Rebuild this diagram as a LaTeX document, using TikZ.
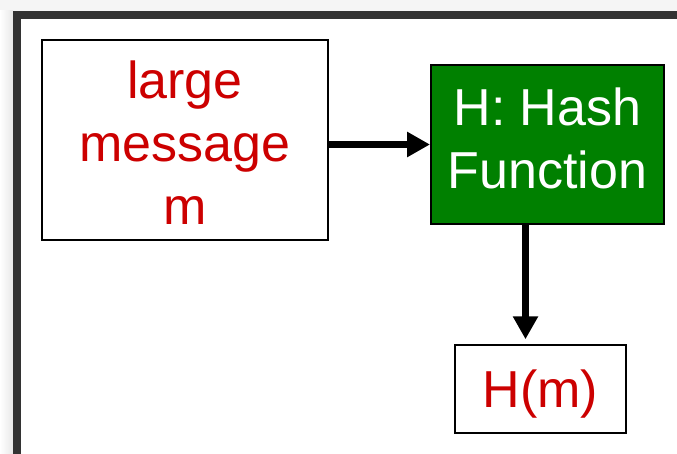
\documentclass[tikz,border=0pt]{standalone}
\usepackage{fontspec}
\setmainfont{Liberation Sans}
\usetikzlibrary{arrows.meta}
\definecolor{msgred}{RGB}{204,0,0}
\definecolor{hashgreen}{RGB}{0,128,0}
\definecolor{framegray}{RGB}{51,51,51}
\begin{document}
\begin{tikzpicture}[x=1pt,y=-1pt,
  box/.style={draw=black,line width=1.5pt,fill=white,inner sep=0pt},
  msgbox/.style={box,minimum width=286pt,minimum height=200pt},
  hashbox/.style={box,line width=2pt,fill=hashgreen,minimum width=233pt,minimum height=159pt},
  outbox/.style={box,minimum width=171pt,minimum height=88pt},
  txt/.style={inner sep=0pt,align=center,text=msgred,font=\fontsize{52}{63}\selectfont},
  flow/.style={line width=7pt,-{Triangle[length=23pt,width=24pt]}}]
\useasboundingbox (0,0) rectangle (677,454);
% page frame
\fill[gray!8] (0,0) rectangle (677,454);
\shade[left color=white,right color=gray!18] (0,11) rectangle (13,454);
\fill[framegray] (13,11) rectangle (677,454);
\fill[white] (21,19) rectangle (677,454);
% boxes
\node[msgbox] (msg) at (185,140) {};
\node[hashbox] (hash) at (547.5,144.5) {};
\node[outbox] (digest) at (540.5,389) {};
% labels
\node[txt] (msgtxt) at (185,143) {large\\message\\m};
\node[txt,text=white] (hashtxt) at (547.5,138) {H: Hash\\Function};
\node[txt] (digesttxt) at (540.5,394) {H(m)};
% arrows
\draw[flow] (hash.west -| msg.east) -- (hash.west);
\draw[flow,shorten >=5pt] ([xshift=-22pt]hash.south) -- ([xshift=-22pt]hash.south |- digest.north);
\end{tikzpicture}
\end{document}
